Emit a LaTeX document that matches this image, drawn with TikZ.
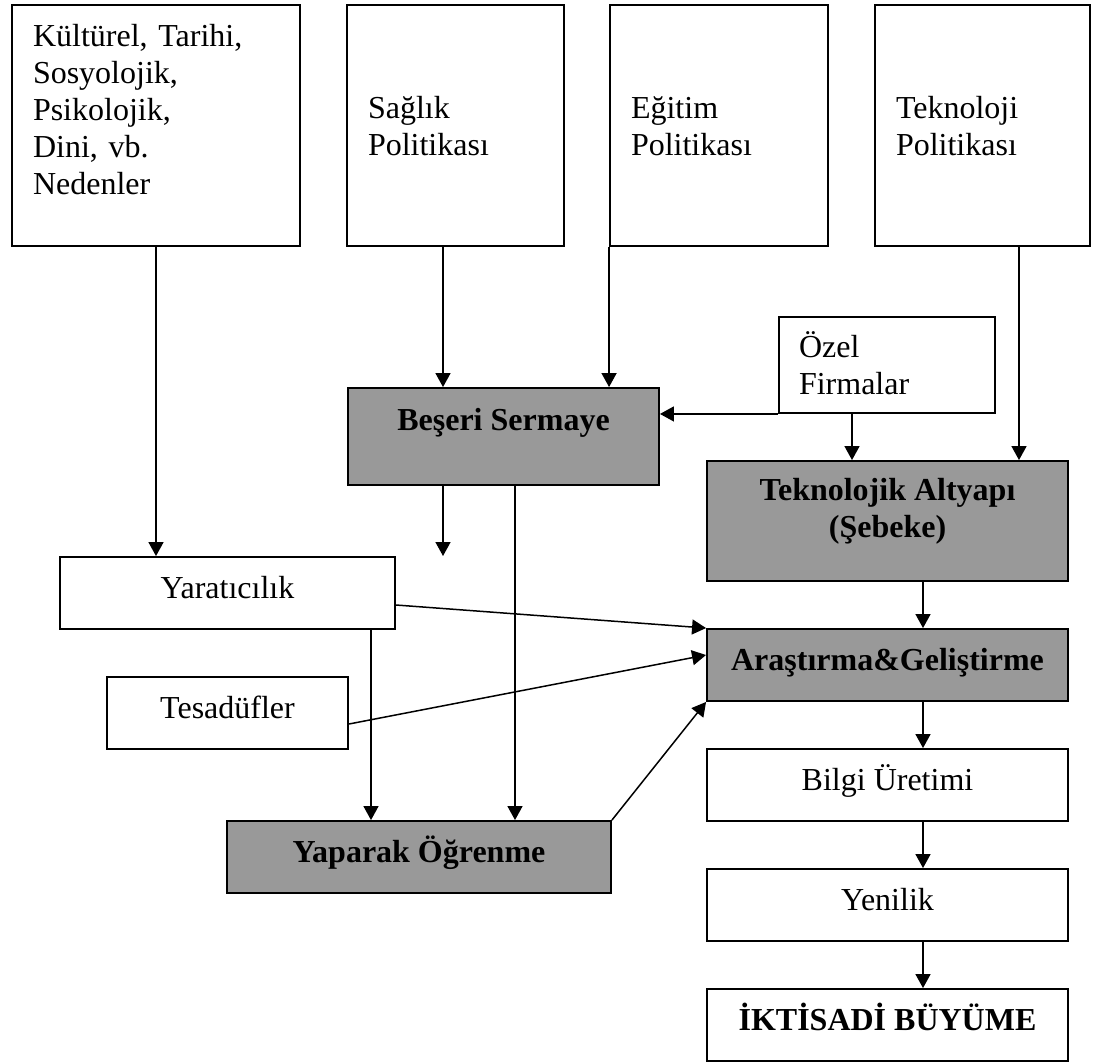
\documentclass[tikz,border=0pt]{standalone}
\usepackage{fontspec}
\setmainfont{Liberation Serif}
\usetikzlibrary{arrows.meta}
\usetikzlibrary{positioning}
\definecolor{boxgray}{RGB}{153,153,153}

\begin{document}
\begin{tikzpicture}[x=1pt,y=-1pt,>={Triangle[length=14pt,width=15pt]},node distance=120pt,line width=1.5pt]
 \tikzstyle{top node}=[rectangle,draw,line width=1.9pt,minimum height=241pt,inner xsep=21pt,align=left,text height=22pt,text depth=37pt,font=\fontsize{32pt}{37pt}\selectfont]
 \tikzstyle{plain node}=[rectangle,draw,line width=1.9pt,minimum height=72pt,text height=20pt,text depth=10pt,font=\fontsize{32pt}{37pt}\selectfont]
 \tikzstyle{grey node}=[plain node,fill=boxgray,align=center,font=\fontsize{32pt}{37pt}\selectfont\bfseries]

 \useasboundingbox (0,0) rectangle (1102,1063);

 % top row
 \node[top node,minimum width=288pt,text width=246pt,text depth=181pt] (kultur) at (156,125.5) {Kültürel, Tarihi,\\Sosyolojik,\\Psikolojik,\\Dini, vb.\\Nedenler};
 \node[top node,minimum width=217pt,text width=175pt] (saglik) at (455.5,125.5) {Sağlık\\Politikası};
 \node[top node,minimum width=218pt,text width=176pt] (egitim) at (719,125.5) {Eğitim\\Politikası};
 \node[top node,minimum width=215pt,text width=173pt] (tekpol) at (982.5,125.5) {Teknoloji\\Politikası};

 \node[top node,minimum width=216pt,minimum height=96pt,inner xsep=20pt,text width=176pt,text depth=38pt] (ozel) at (887,365) {Özel\\Firmalar};
 \node[grey node,minimum width=311pt,minimum height=97pt,text depth=33pt] (beseri) at (503.5,436.5) {Beşeri Sermaye};
 \node[grey node,minimum width=361pt,minimum height=120pt,text height=42pt,text depth=10pt] (altyapi) at (887.5,521) {Teknolojik Altyapı\\(Şebeke)};

 \node[plain node,minimum width=335pt] (yarat) at (227.5,593) {Yaratıcılık};
 \node[plain node,minimum width=241pt] (tesad) at (227.5,713) {Tesadüfler};
 \node[grey node,minimum width=384pt] (yaparak) at (419,857) {Yaparak Öğrenme};

 % right column
 \node[grey node,minimum width=361pt] (arge) at (887.5,665) {Araştırma\&Geliştirme};
 \node[plain node,minimum width=361pt] (bilgi) [below of=arge] {Bilgi Üretimi};
 \node[plain node,minimum width=361pt] (yenilik) [below of=bilgi] {Yenilik};
 \node[plain node,minimum width=361pt] (iktisat) [below of=yenilik] {\textbf{İKTİSADİ BÜYÜME}};

 \coordinate (s1) at ([xshift=-12.5pt]saglik.south);
 \coordinate (s2) at ([xshift=36.5pt]tekpol.south);
 \coordinate (s3) at ([xshift=-35pt]ozel.south);
 \coordinate (s4) at ([xshift=11.5pt]beseri.south);
 \coordinate (s5) at ([xshift=143.5pt]yarat.south);
 \coordinate (s6) at ([xshift=35.5pt]altyapi.south);
 \coordinate (s7) at ([yshift=-12pt]yarat.east);
 \coordinate (s8) at ([yshift=-11pt]tesad.east);
 \coordinate (s9) at ([yshift=10pt]arge.west);
 \coordinate (stub) at (443,556);

 \path[->] (kultur.south) edge (kultur.south |- yarat.north);
 \path[->] (s1) edge (s1 |- beseri.north);
 \path[->] (egitim.south west) edge (egitim.south west |- beseri.north);
 \path[->] (s2) edge (s2 |- altyapi.north);
 \path[->] (ozel.south west) edge (ozel.south west -| beseri.east);
 \path[->] (s3) edge (s3 |- altyapi.north);

 \path[->] (stub |- beseri.south) edge (stub);
 \path[->] (s4) edge (s4 |- yaparak.north);
 \path[->] (s5) edge (s5 |- yaparak.north);

 \path[->] (s7) edge (arge.north west);
 \path[->] (s8) edge (s9);
 \path[->] (yaparak.north east) edge (arge.south west);

 \path[->] (s6) edge (s6 |- arge.north);
 \path[->] (s6 |- arge.south) edge (s6 |- bilgi.north);
 \path[->] (s6 |- bilgi.south) edge (s6 |- yenilik.north);
 \path[->] (s6 |- yenilik.south) edge (s6 |- iktisat.north);
\end{tikzpicture}
\end{document}
